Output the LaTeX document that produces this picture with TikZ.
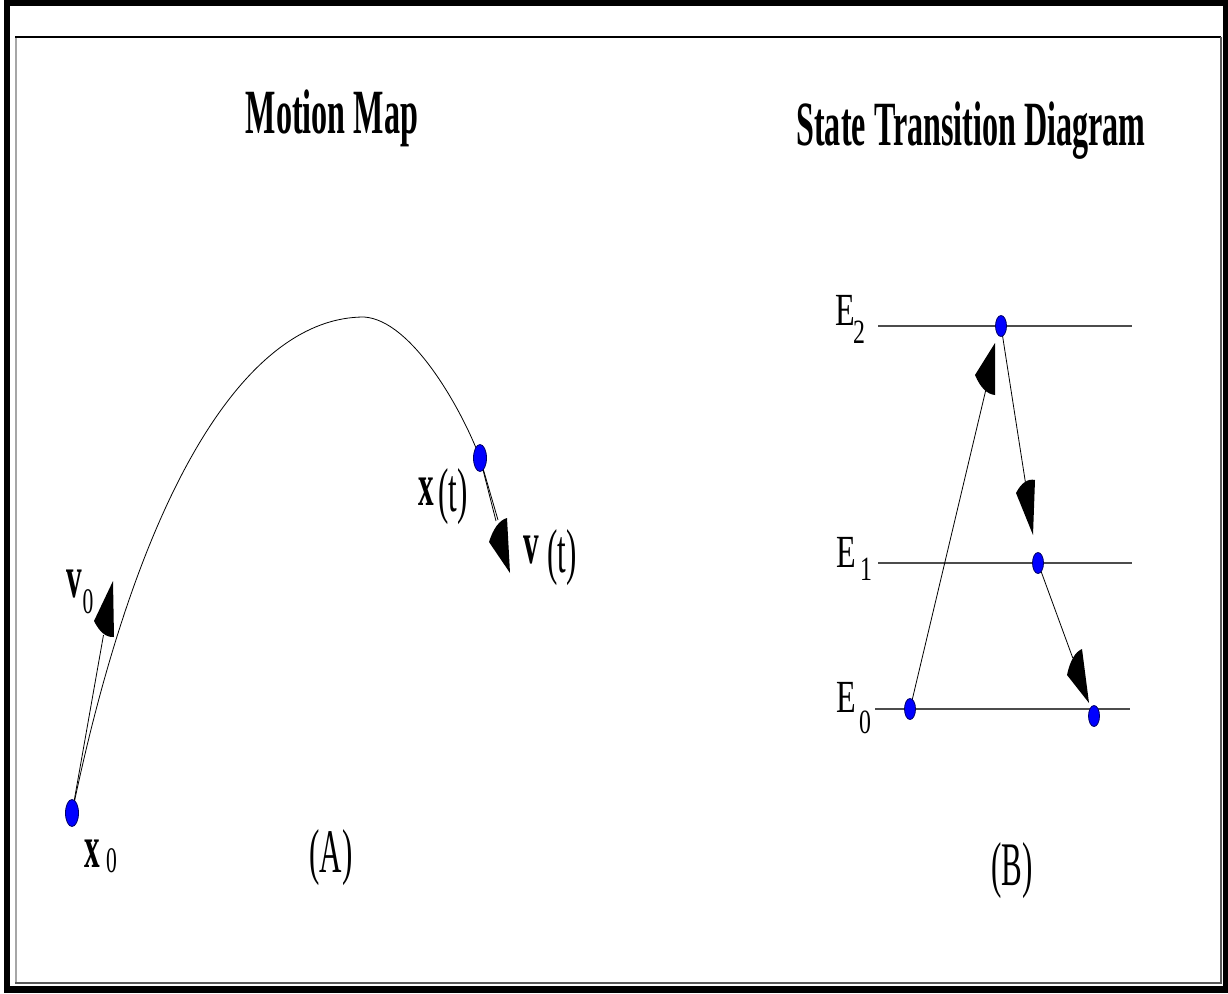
\documentclass[tikz,border=0pt]{standalone}
\usepackage{fontspec}
\setmainfont{Liberation Serif}
\usetikzlibrary{shapes.geometric,calc,backgrounds}
\tikzset{
 dotA/.style={ellipse, fill=blue, draw=blue!40!black, line width=0.8pt, minimum width=13pt, minimum height=27pt, inner sep=0pt},
 dotB/.style={ellipse, fill=blue, draw=blue!40!black, line width=0.8pt, minimum width=11pt, minimum height=21pt, inner sep=0pt},
 elevel/.style={draw=black!70, line width=1.3pt},
 conn/.style={draw=black, line width=0.8pt},
 head/.style={fill=black},
 ttl/.style={font=\fontsize{63}{63}\selectfont\bfseries, xscale=0.51, anchor=base, inner sep=0pt},
 bsym/.style={font=\fontsize{60}{60}\selectfont\bfseries, xscale=0.52, anchor=base, inner sep=0pt},
 subl/.style={font=\fontsize{36}{36}\selectfont, xscale=0.6, anchor=base, inner sep=0pt},
 parl/.style={font=\fontsize{62}{62}\selectfont, xscale=0.5, anchor=base, inner sep=0pt},
 elab/.style={font=\fontsize{46}{46}\selectfont, xscale=0.7, anchor=base, inner sep=0pt},
 esub/.style={font=\fontsize{34}{34}\selectfont, xscale=0.7, anchor=base, inner sep=0pt},
}
\begin{document}
\begin{tikzpicture}[x=1pt,y=-1pt]
\useasboundingbox (0,0) rectangle (1228,993);
% dots
\node[dotA] (x0) at (72,813) {};
\node[dotA] (xt) at (480,458) {};
\node[dotB] (e2) at (1001,326) {};
\node[dotB] (e1) at (1038,563) {};
\node[dotB] (e0a) at (910,709) {};
\node[dotB] (e0b) at (1094,716) {};
\coordinate (top) at (364,317);
\coordinate (tend) at (498,520);
\coordinate (v0end) at (103.5,635);
\coordinate (vtend) at (496,521);
\begin{scope}[on background layer]
 \fill[black] (4,0) rectangle (1228,993);
 \fill[white] (10,6) rectangle (1223,986);
 \draw[black!35, line width=1.5pt] (16,983) -- (16,37);
 \draw[black, line width=1.5pt] (15.25,37) -- (1221,37);
 \draw[black!65, line width=1.5pt] (1221,37) -- (1221,983) -- (15.25,983);
 % energy levels
 \draw[elevel] (878,326) -- (1132,326);
 \draw[elevel] (878,563) -- (1132,563);
 \draw[elevel] (875,709) -- (1130,709);
 % trajectory
 \draw[conn] (x0.center) .. controls (141,480) and (250,317) .. (top)
   .. controls (412,320) and (462,410) .. (xt.center) -- (tend);
 \draw[conn] (x0.center) -- (v0end);
 \draw[conn] (xt.center) -- (vtend);
 % transitions
 \draw[conn] (e0a.center) -- ($(e0a.center)!0.835!(e2.center)$);
 \draw[conn] (e2.center) -- ($(e2.center)!0.662!(e1.center)$);
 \draw[conn] (e1.center) -- ($(e1.center)!0.62!(e0b.center)$);
\end{scope}
% arrowheads
\fill[head] (995,343) -- (995,395) .. controls (986.9,394.2) and (980.3,387.5) .. (975,375) -- cycle;
\fill[head] (1033,535) -- (1035,480) .. controls (1027.75,478.4) and (1021.4,482.7) .. (1016,493) -- cycle;
\fill[head] (1089,703) -- (1082,649) .. controls (1075,652) and (1070,660.7) .. (1067,675) -- cycle;
\fill[head] (113,581) -- (114,637) .. controls (106.2,637.6) and (99.6,632.2) .. (94,621) -- cycle;
\fill[head] (510,573) -- (507,518) .. controls (499.4,520.2) and (493.4,528.2) .. (489,542) -- cycle;
% titles
\node[ttl] (t1) at (332,133) {Motion Map};
\node[ttl] (t2) at (971,145) {State Transition Diagram};
% motion labels
\node[bsym] (lv0) at (74,597) {v};
\node[subl] (lv0s) at (88,613) {0};
\node[bsym] (lx0) at (92,867) {x};
\node[subl] (lx0s) at (111.5,872) {0};
\node[bsym] (lxt) at (426,505) {x};
\node[parl] (lxtp) at (453,511) {(t)};
\node[bsym] (lvt) at (531,563) {v};
\node[parl] (lvtp) at (562,572) {(t)};
\node[parl] (lA) at (331,872) {(A)};
\node[parl] (lB) at (1012,885) {(B)};
% energy labels
\node[elab] (le2) at (845,325) {E};
\node[esub] (le2s) at (859,343) {2};
\node[elab] (le1) at (846,567) {E};
\node[esub] (le1s) at (866,580) {1};
\node[elab] (le0) at (846,712) {E};
\node[esub] (le0s) at (865,733) {0};
\end{tikzpicture}
\end{document}
